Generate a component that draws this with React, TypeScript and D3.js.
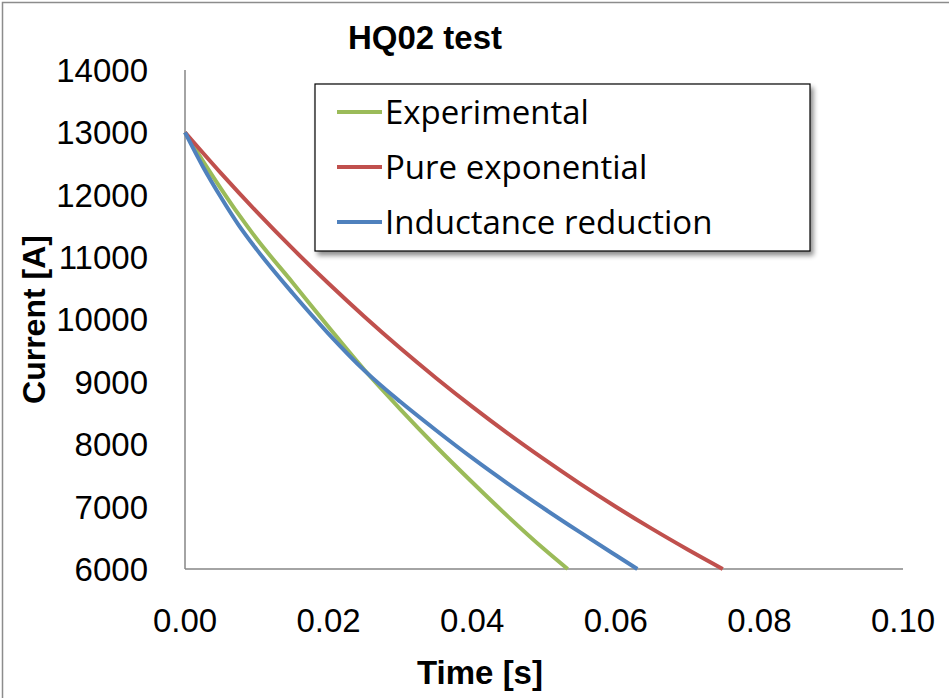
import React from "react";
import * as d3 from "d3";

const expTime = [0, 0.0025, 0.005, 0.0075, 0.01, 0.015, 0.02, 0.025, 0.03, 0.035, 0.04, 0.045, 0.05, 0.0533];
const expCurrent = [13000, 12540, 12100, 11680, 11290, 10590, 9880, 9190, 8560, 7960, 7390, 6840, 6320, 6000];

const pureTime = [0, 0.005, 0.01, 0.015, 0.02, 0.025, 0.03, 0.035, 0.04, 0.045, 0.05, 0.055, 0.06, 0.065, 0.07, 0.0749];
const pureCurrent = [13000, 12346, 11725, 11135, 10576, 10044, 9538, 9059, 8603, 8170, 7760, 7369, 6999, 6647, 6313, 6000];

const indTime = [0, 0.0025, 0.005, 0.0075, 0.01, 0.015, 0.02, 0.025, 0.03, 0.035, 0.04, 0.045, 0.05, 0.055, 0.06, 0.063];
const indCurrent = [13000, 12450, 11960, 11510, 11120, 10420, 9770, 9180, 8680, 8220, 7780, 7365, 6970, 6590, 6220, 6000];

const seriesNames = ["Experimental", "Pure exponential", "Inductance reduction"];
const seriesColors = ["#9BBB59", "#C0504D", "#4F81BD"];

const xTicks = [0, 0.02, 0.04, 0.06, 0.08, 0.1];
const yTicks = [6000, 7000, 8000, 9000, 10000, 11000, 12000, 13000, 14000];

const title = "HQ02 test";
const xTitle = "Time [s]";
const yTitle = "Current [A]";

export default function App() {
  const W = 949, H = 698;
  const x = d3.scaleLinear().domain([0, 0.1]).range([185, 903]);
  const y = d3.scaleLinear().domain([6000, 14000]).range([569, 70]);
  const series = [
    { t: expTime, v: expCurrent },
    { t: pureTime, v: pureCurrent },
    { t: indTime, v: indCurrent },
  ];
  const line = d3
    .line<[number, number]>()
    .x((d) => x(d[0]))
    .y((d) => y(d[1]))
    .curve(d3.curveMonotoneX);
  const font = "'Liberation Sans', Arial, sans-serif";
  const legFont = "'Open Sans', sans-serif";
  const legX = 315, legY = 84, legW = 495, legH = 167;
  const rowY = [112, 167, 222];
  return (
    <svg width={W} height={H} style={{ position: "absolute", left: 0, top: 0 }}>
      <defs>
        <filter id="sh" x="-10%" y="-10%" width="130%" height="140%">
          <feGaussianBlur in="SourceAlpha" stdDeviation="2.5" />
          <feOffset dx="3" dy="4" result="b" />
          <feComponentTransfer>
            <feFuncA type="linear" slope="0.45" />
          </feComponentTransfer>
          <feMerge>
            <feMergeNode />
            <feMergeNode in="SourceGraphic" />
          </feMerge>
        </filter>
      </defs>
      <rect x={0} y={0} width={W} height={H} fill="#fff" />
      <rect x={2.5} y={2.5} width={W + 10} height={H + 10} fill="none" stroke="#8c8c8c" strokeWidth={1.5} />
      <text x={425} y={49} textAnchor="middle" fontFamily={font} fontWeight="bold" fontSize={33} fill="#000">
        {title}
      </text>
      {/* axes */}
      <line x1={x(0)} x2={x(0)} y1={y(14000)} y2={y(6000)} stroke="#868686" strokeWidth={1.5} />
      <line x1={x(0)} x2={x(0.1)} y1={y(6000)} y2={y(6000)} stroke="#868686" strokeWidth={1.5} />
      {yTicks.map((v) => (
        <text key={v} x={148} y={y(v)} dy="0.36em" textAnchor="end" fontFamily={font} fontSize={33} fill="#000">
          {v}
        </text>
      ))}
      {xTicks.map((v) => (
        <text key={v} x={x(v)} y={620} dy="0.36em" textAnchor="middle" fontFamily={font} fontSize={33} fill="#000">
          {d3.format(".2f")(v)}
        </text>
      ))}
      <text x={480} y={672} dy="0.36em" textAnchor="middle" fontFamily={font} fontWeight="bold" fontSize={33} fill="#000">
        {xTitle}
      </text>
      <text
        transform={`translate(33,${(y(14000) + y(6000)) / 2}) rotate(-90)`}
        dy="0.36em"
        textAnchor="middle"
        fontFamily={font}
        fontWeight="bold"
        fontSize={32}
        fill="#000"
      >
        {yTitle}
      </text>
      {series.map((s, i) => (
        <path
          key={i}
          d={line(s.t.map((t, j) => [t, s.v[j]] as [number, number])) || ""}
          fill="none"
          stroke={seriesColors[i]}
          strokeWidth={4}
          strokeLinejoin="round"
        />
      ))}
      {/* legend */}
      <rect x={legX} y={legY} width={legW} height={legH} fill="#fff" stroke="#000" strokeWidth={1.2} filter="url(#sh)" />
      {seriesNames.map((n, i) => (
        <g key={n}>
          <line x1={337} x2={382} y1={rowY[i]} y2={rowY[i]} stroke={seriesColors[i]} strokeWidth={4} />
          <text x={385} y={rowY[i]} dy="0.36em" fontFamily={legFont} fontSize={33} fill="#000">
            {n}
          </text>
        </g>
      ))}
    </svg>
  );
}
